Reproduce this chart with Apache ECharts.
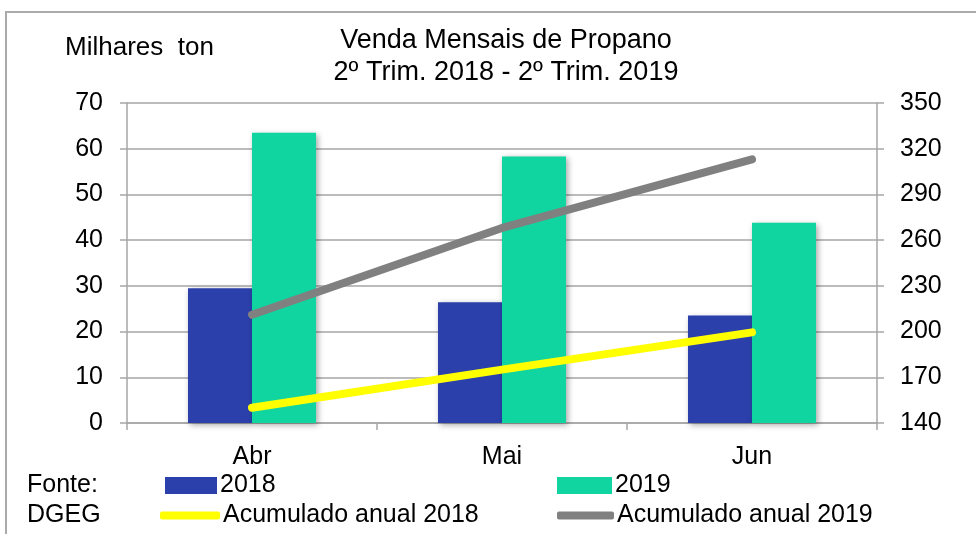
<!DOCTYPE html>
<html>
<head>
<meta charset="utf-8">
<script src="https://cdn.jsdelivr.net/npm/echarts@6/dist/echarts.min.js"></script>
<style>
  html, body { margin: 0; padding: 0; background: #fff; }
  #chart { width: 976px; height: 534px; }
</style>
</head>
<body>
<div id="chart"></div>
<script>
const months = ['Abr', 'Mai', 'Jun'];
const sales2018 = [29.5, 26.4, 23.5];
const sales2019 = [63.5, 58.3, 43.8];
const cumul2018 = [150, 175, 199.5];
const cumul2019 = [211, 268, 313];

const font = 'Liberation Sans, Arial, sans-serif';
const axisGray = '#a6a6a6';
const fs = 25;

const chart = echarts.init(document.getElementById('chart'));

function legendAt(name, left, top, opts) {
  return Object.assign({
    data: [name],
    left: left,
    top: top,
    padding: 0,
    itemGap: 0,
    textStyle: { fontFamily: font, fontSize: fs, color: '#000', padding: [0, 0, 0, -2] },
    selectedMode: false
  }, opts);
}

chart.setOption({
  animation: false,
  title: [
    {
      text: 'Venda Mensais de Propano\n2º Trim. 2018 - 2º Trim. 2019',
      left: 506,
      top: 25,
      padding: 0,
      textAlign: 'center',
      textStyle: { fontFamily: font, fontSize: 27, fontWeight: 'normal', color: '#000', lineHeight: 32 }
    },
    {
      text: 'Milhares  ton',
      left: 65,
      top: 35,
      padding: 0,
      textStyle: { fontFamily: font, fontSize: 26, fontWeight: 'normal', color: '#000' }
    },
    {
      text: 'Fonte:\nDGEG',
      left: 27,
      top: 470,
      padding: 0,
      textStyle: { fontFamily: font, fontSize: fs, fontWeight: 'normal', color: '#000', lineHeight: 30 }
    }
  ],
  graphic: [{
    type: 'rect',
    shape: { x: 6, y: 12, width: 1000, height: 600 },
    style: { fill: 'none', stroke: '#aaaaaa', lineWidth: 2 },
    silent: true
  }],
  legend: [
    legendAt('2018', 165, 473, { icon: 'rect', itemWidth: 52, itemHeight: 17 }),
    legendAt('2019', 557, 473, { icon: 'rect', itemWidth: 55, itemHeight: 17 }),
    legendAt('Acumulado anual 2018', 160, 503, { icon: 'roundRect', itemWidth: 60, itemHeight: 8 }),
    legendAt('Acumulado anual 2019', 557, 503, { icon: 'roundRect', itemWidth: 57, itemHeight: 8 })
  ],
  grid: { left: 127, right: 99, top: 103, bottom: 111, containLabel: false },
  xAxis: {
    type: 'category',
    data: months,
    boundaryGap: true,
    axisLine: { lineStyle: { color: axisGray, width: 1.5 } },
    axisTick: { show: true, length: 7, lineStyle: { color: axisGray, width: 1.5 } },
    axisLabel: { fontFamily: font, fontSize: fs, color: '#000', margin: 22 }
  },
  yAxis: [
    {
      type: 'value',
      min: 0,
      max: 70,
      interval: 10,
      axisLine: { show: true, lineStyle: { color: axisGray, width: 1.5 } },
      axisTick: { show: true, length: 7, lineStyle: { color: axisGray, width: 1.5 } },
      axisLabel: { fontFamily: font, fontSize: fs, color: '#000', margin: 24 },
      splitLine: { show: true, lineStyle: { color: axisGray, width: 1.5 } }
    },
    {
      type: 'value',
      min: 140,
      max: 350,
      interval: 30,
      position: 'right',
      axisLine: { show: true, lineStyle: { color: axisGray, width: 1.5 } },
      axisTick: { show: true, length: 7, lineStyle: { color: axisGray, width: 1.5 } },
      axisLabel: { fontFamily: font, fontSize: fs, color: '#000', margin: 23 },
      splitLine: { show: false }
    }
  ],
  series: [
    {
      name: '2018',
      type: 'bar',
      data: sales2018,
      barWidth: 64,
      barGap: '0%',
      itemStyle: {
        color: '#2b40aa',
        shadowBlur: 6, shadowColor: 'rgba(0,0,0,0.35)', shadowOffsetX: 2, shadowOffsetY: 2
      }
    },
    {
      name: '2019',
      type: 'bar',
      data: sales2019,
      barWidth: 64,
      barGap: '0%',
      itemStyle: {
        color: '#10d5a0',
        shadowBlur: 6, shadowColor: 'rgba(0,0,0,0.35)', shadowOffsetX: 2, shadowOffsetY: 2
      }
    },
    {
      name: 'Acumulado anual 2018',
      type: 'line',
      yAxisIndex: 1,
      data: cumul2018,
      symbol: 'none',
      lineStyle: { color: '#ffff00', width: 8, cap: 'round' },
      itemStyle: { color: '#ffff00' }
    },
    {
      name: 'Acumulado anual 2019',
      type: 'line',
      yAxisIndex: 1,
      data: cumul2019,
      symbol: 'none',
      lineStyle: { color: '#808080', width: 8, cap: 'round' },
      itemStyle: { color: '#808080' }
    }
  ]
});
</script>
</body>
</html>
